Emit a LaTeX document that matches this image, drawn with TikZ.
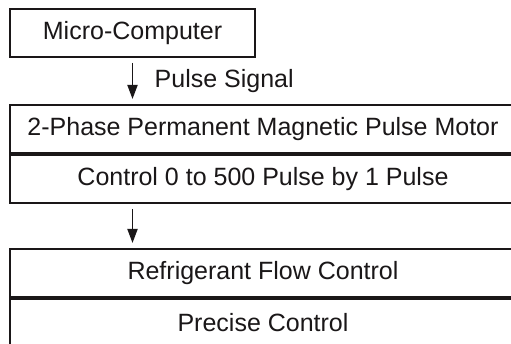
\documentclass[tikz,border=0pt]{standalone}
\usepackage{fontspec}
\setmainfont{Liberation Sans}
\usepackage{xcolor}
\usetikzlibrary{arrows.meta,calc}
\definecolor{boxink}{HTML}{1A1718}

\begin{document}
\begin{tikzpicture}[
  font=\fontsize{25}{29}\selectfont,
  unitbox/.style={
    draw=boxink,
    fill=white,
    text=boxink,
    line width=2pt,
    rectangle,
    inner sep=0pt
  },
  rowbox/.style={
    unitbox,
    minimum width=506pt,
    minimum height=48pt
  },
  flow/.style={
    draw=boxink,
    line width=1.8pt,
    -{Triangle[length=14pt,width=10pt]},
    shorten <=5pt,
    shorten >=5pt
  }
]
\useasboundingbox (0,0) rectangle (511pt,-344pt);
\clip (0,0) rectangle (511pt,-344pt);

\node[unitbox,minimum width=245pt,minimum height=48pt,anchor=north west]
  (mc) at (9pt,-8pt) {Micro-Computer};

\node[rowbox,anchor=north west] (motor) at (9pt,-104pt)
  {2-Phase Permanent Magnetic Pulse Motor};
\node[rowbox,anchor=north west] (pulses) at (motor.south west)
  {Control 0 to 500 Pulse by 1 Pulse};

\node[rowbox,anchor=north west] (flow) at (9pt,-248pt)
  {Refrigerant Flow Control};
\node[rowbox,anchor=north west] (precise) at (flow.south west)
  {Precise Control};

\draw[flow] (mc.south) -- (mc.south |- motor.north)
  node[midway,right,xshift=18pt,text=boxink] (sig) {Pulse Signal};
\draw[flow] (pulses.south -| mc.south) -- (flow.north -| mc.south);

\end{tikzpicture}
\end{document}
